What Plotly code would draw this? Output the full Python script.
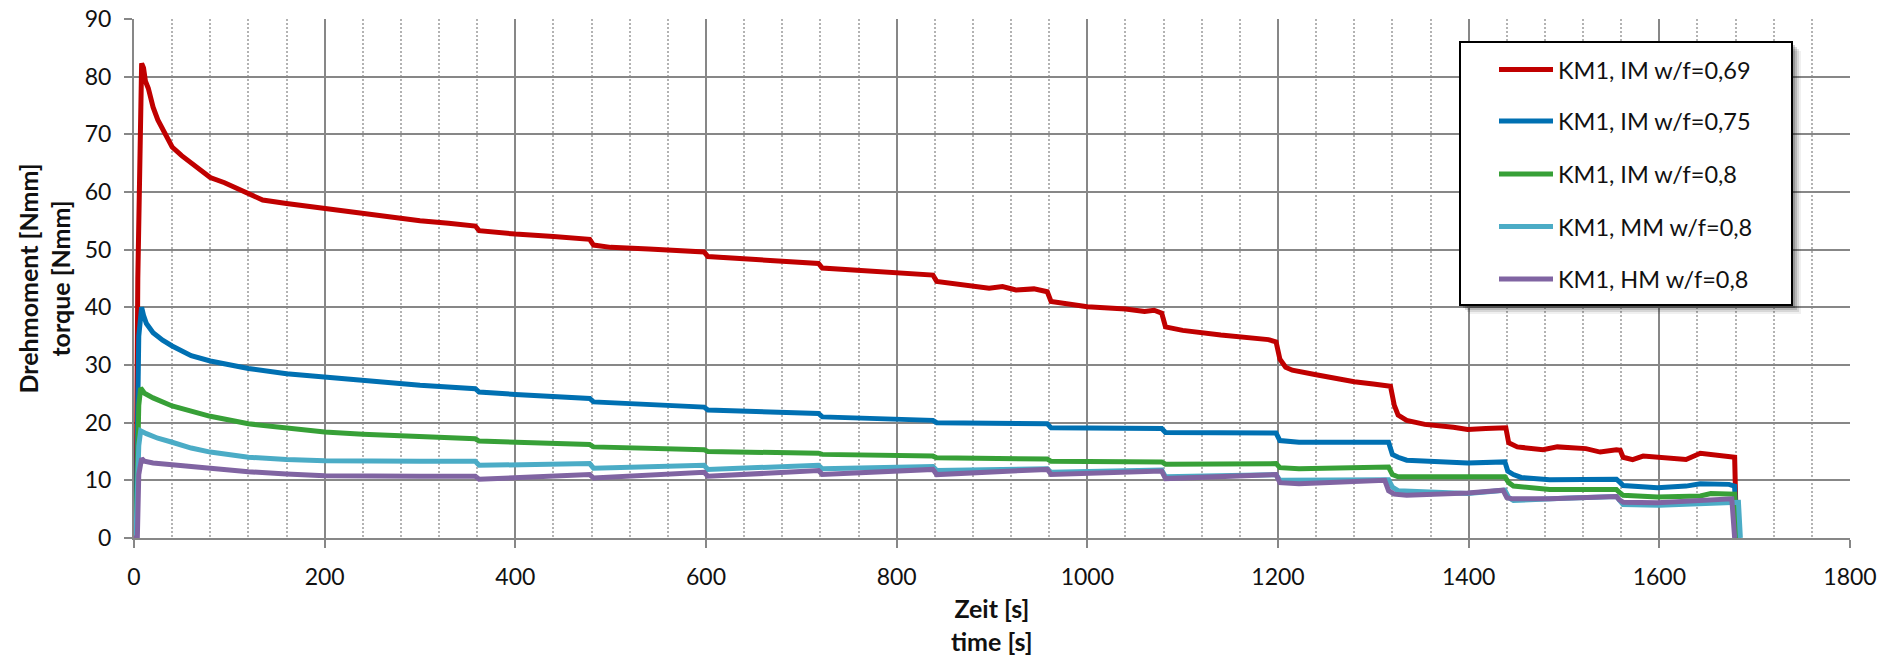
import plotly.graph_objects as go

# ---- measured torque curves (time in s, torque in Nmm) ----
names = ["KM1, IM w/f=0,69", "KM1, IM w/f=0,75", "KM1, IM w/f=0,8",
         "KM1, MM w/f=0,8", "KM1, HM w/f=0,8"]
colors = ["#C00000", "#0070B2", "#37A037", "#4BACC6", "#8064A2"]

t_im069 = [0, 2, 4, 6.5, 8, 10, 12, 15, 20, 25, 30, 40, 50, 60, 70, 80, 95, 110, 120, 135,
           160, 200, 240, 270, 300, 330, 358, 362, 380, 400, 440, 470, 478, 482, 500, 540,
           580, 598, 602, 640, 680, 718, 722, 760, 800, 838, 842, 870, 897, 911, 925, 944,
           958, 962, 1000, 1040, 1060, 1070, 1078, 1082, 1100, 1140, 1170, 1190, 1198, 1202,
           1208, 1215, 1240, 1260, 1280, 1300, 1314, 1318, 1322, 1326, 1335, 1354, 1384, 1399,
           1418, 1436, 1439, 1442, 1451, 1478, 1493, 1523, 1538, 1555, 1559, 1562, 1572, 1583,
           1617, 1628, 1643, 1651, 1666, 1679, 1681]
v_im069 = [0, 0, 45, 78, 82.3, 81.5, 79.2, 78.0, 74.7, 72.5, 70.8, 67.8, 66.3, 65.1, 63.8, 62.5,
           61.6, 60.4, 59.6, 58.6, 58.0, 57.1, 56.2, 55.6, 55.0, 54.6, 54.1, 53.3, 53.0, 52.7,
           52.3, 52.0, 51.8, 50.8, 50.4, 50.1, 49.8, 49.6, 48.8, 48.4, 48.0, 47.6, 46.8, 46.4,
           45.9, 45.6, 44.5, 43.8, 43.3, 43.6, 43.0, 43.2, 42.7, 41.0, 40.1, 39.7, 39.3, 39.5,
           39.0, 36.6, 36.0, 35.2, 34.7, 34.4, 34.0, 31.0, 29.6, 29.1, 28.3, 27.6, 27.1, 26.7,
           26.4, 26.3, 23.0, 21.3, 20.4, 19.7, 19.2, 18.8, 19.0, 19.2, 19.1, 16.5, 15.8, 15.3,
           15.8, 15.5, 14.9, 15.3, 15.2, 14.0, 13.6, 14.2, 13.8, 13.6, 14.7, 14.5, 14.2, 14.0, 0]

t_im075 = [0, 2, 5, 7, 8, 10, 13, 20, 30, 40, 60, 80, 100, 120, 160, 200, 240, 300, 358, 362,
           400, 440, 478, 482, 540, 598, 602, 660, 718, 722, 760, 800, 838, 842, 900, 958, 962,
           1000, 1040, 1078, 1082, 1140, 1198, 1202, 1222, 1260, 1316, 1320, 1326, 1335, 1399,
           1438, 1441, 1447, 1455, 1485, 1523, 1555, 1559, 1562, 1598, 1628, 1643, 1673, 1679,
           1681]
v_im075 = [0, 0, 35, 39.5, 40.0, 38.6, 37.2, 35.6, 34.3, 33.3, 31.6, 30.7, 30.0, 29.4, 28.5,
           27.9, 27.3, 26.5, 25.9, 25.3, 24.9, 24.6, 24.2, 23.6, 23.2, 22.7, 22.2, 21.9, 21.6,
           21.0, 20.8, 20.5, 20.4, 20.0, 19.9, 19.8, 19.1, 19.0, 19.0, 19.0, 18.3, 18.2, 18.2,
           16.9, 16.6, 16.6, 16.6, 14.5, 14.0, 13.5, 13.0, 13.2, 11.6, 11.0, 10.5, 10.1, 10.1,
           10.2, 9.6, 9.1, 8.7, 9.0, 9.4, 9.3, 9.0, 0]

t_im08 = [0, 2, 5, 7, 11, 20, 40, 60, 80, 120, 160, 200, 240, 300, 358, 362, 420, 478, 482,
          540, 598, 602, 660, 718, 722, 780, 838, 842, 900, 958, 962, 1000, 1078, 1082, 1140,
          1198, 1202, 1222, 1316, 1320, 1326, 1399, 1438, 1442, 1447, 1485, 1555, 1559, 1562,
          1598, 1643, 1654, 1679, 1681]
v_im08 = [0, 0, 23, 26.0, 25.1, 24.3, 22.9, 22.0, 21.1, 19.8, 19.0, 18.4, 18.0, 17.5, 17.2,
          16.8, 16.5, 16.2, 15.8, 15.5, 15.3, 15.0, 14.9, 14.7, 14.5, 14.4, 14.2, 13.9, 13.8,
          13.7, 13.3, 13.2, 13.2, 12.8, 12.8, 12.9, 12.2, 12.0, 12.3, 11.0, 10.6, 10.5, 10.6,
          9.6, 9.0, 8.4, 8.4, 7.8, 7.4, 7.1, 7.3, 7.7, 7.6, 0]

t_mm08 = [0, 2, 5, 7, 13, 25, 40, 60, 80, 100, 120, 160, 200, 300, 358, 362, 420, 478, 482,
          540, 598, 602, 660, 718, 722, 780, 838, 842, 900, 958, 962, 1000, 1078, 1082, 1140,
          1198, 1202, 1222, 1316, 1320, 1326, 1399, 1438, 1442, 1447, 1500, 1555, 1559, 1562,
          1600, 1679, 1683, 1685]
v_mm08 = [0, 0, 16, 18.6, 18.1, 17.3, 16.6, 15.6, 14.9, 14.4, 14.0, 13.6, 13.4, 13.3, 13.3,
          12.6, 12.7, 12.9, 12.1, 12.3, 12.6, 11.9, 12.2, 12.6, 12.0, 12.2, 12.4, 11.7, 11.8,
          12.0, 11.4, 11.5, 11.8, 10.6, 10.8, 11.0, 10.0, 10.0, 10.1, 8.8, 8.2, 7.7, 8.3, 7.0,
          6.5, 6.9, 7.2, 6.4, 5.8, 5.7, 6.0, 6.2, 0]

t_hm08 = [0, 3.5, 5, 7, 8, 11, 20, 40, 80, 120, 160, 200, 300, 358, 362, 420, 478, 482, 540,
          598, 602, 660, 718, 722, 780, 838, 842, 900, 958, 962, 1000, 1078, 1082, 1140, 1198,
          1202, 1222, 1312, 1316, 1322, 1335, 1399, 1436, 1440, 1445, 1485, 1555, 1558, 1562,
          1598, 1643, 1676, 1679]
v_hm08 = [0, 0, 11, 13.5, 13.8, 13.3, 13.0, 12.7, 12.0, 11.5, 11.1, 10.8, 10.7, 10.7, 10.2,
          10.6, 11.0, 10.4, 10.9, 11.4, 10.7, 11.2, 11.7, 11.0, 11.5, 11.9, 11.0, 11.5, 11.9,
          11.0, 11.2, 11.6, 10.3, 10.6, 11.0, 9.6, 9.4, 10.0, 8.2, 7.6, 7.4, 7.8, 8.3, 7.0, 6.8,
          6.8, 7.2, 6.6, 6.2, 6.1, 6.4, 6.8, 0]

series_t = [t_im069, t_im075, t_im08, t_mm08, t_hm08]
series_v = [v_im069, v_im075, v_im08, v_mm08, v_hm08]

x_ticks = list(range(0, 1801, 200))
y_ticks = list(range(0, 91, 10))

# ---- page geometry (px) ----
W, H = 1883, 662
PL, PR, PT, PB = 134, 1850, 19, 538
FONT = "Lato, Carlito, Calibri, sans-serif"
GRID = "#878787"
TEXT = "#111111"


def px(xp):
    return (xp - PL) / (PR - PL)


def py(yp):
    return (PB - yp) / (PB - PT)


fig = go.Figure()
for t, v, name, col in zip(series_t, series_v, names, colors):
    fig.add_trace(go.Scatter(x=t, y=v, mode="lines", name=name,
                             line=dict(color=col, width=5), showlegend=False))

axis_common = dict(
    showline=True, linecolor=GRID, linewidth=2,
    showgrid=True, gridcolor=GRID, gridwidth=2,
    ticks="outside", ticklen=8, tickwidth=2, tickcolor=GRID,
    zeroline=False, automargin=False,
    tickfont=dict(family=FONT, size=23, color=TEXT),
)
fig.update_xaxes(range=[0, 1800], tickvals=x_ticks, ticklabelstandoff=9,
                 minor=dict(dtick=40, showgrid=True, gridcolor="#b3b3b3",
                            gridwidth=1.5, griddash="2px,2px", ticks=""),
                 **axis_common)
fig.update_yaxes(range=[0, 90], tickvals=y_ticks, ticklabelstandoff=8, **axis_common)

# axis titles
annotations = [
    dict(text="<b>Zeit [s]</b><br><b>time [s]</b>", x=0.5, y=py(624), xref="paper",
         yref="paper", xanchor="center", yanchor="middle", showarrow=False,
         font=dict(family=FONT, size=25, color=TEXT)),
    dict(text="<b>Drehmoment [Nmm]</b><br><b>torque [Nmm]</b>", x=px(44), y=0.5,
         xref="paper", yref="paper", xanchor="center", yanchor="middle", textangle=-90,
         showarrow=False, font=dict(family=FONT, size=25, color=TEXT)),
]

# legend box with soft shadow
BX0, BY0, BX1, BY1 = 1460, 42, 1792, 305
shapes = []
for off, op in [(9, 0.06), (7, 0.10), (5, 0.14), (3, 0.18)]:
    shapes.append(dict(type="rect", xref="paper", yref="paper", layer="above",
                       x0=px(BX0 + off), x1=px(BX1 + off), y0=py(BY1 + off), y1=py(BY0 + off),
                       fillcolor=f"rgba(0,0,0,{op})", line=dict(width=0)))
shapes.append(dict(type="rect", xref="paper", yref="paper", layer="above",
                   x0=px(BX0), x1=px(BX1), y0=py(BY1), y1=py(BY0),
                   fillcolor="white", line=dict(color="black", width=2)))

row_y = [69.5, 121, 174, 226.5, 279]
for name, col, ry in zip(names, colors, row_y):
    shapes.append(dict(type="line", xref="paper", yref="paper", layer="above",
                       x0=px(1499), x1=px(1553), y0=py(ry), y1=py(ry),
                       line=dict(color=col, width=5)))
    annotations.append(dict(text=name, x=px(1556), y=py(ry), xref="paper", yref="paper",
                            xanchor="left", yanchor="middle", showarrow=False,
                            font=dict(family=FONT, size=23.5, color=TEXT)))

fig.update_layout(
    width=W, height=H, autosize=False,
    margin=dict(l=PL, r=W - PR, t=PT, b=H - PB),
    paper_bgcolor="white", plot_bgcolor="white",
    showlegend=False, shapes=shapes, annotations=annotations,
)

fig.write_html("out.html")
